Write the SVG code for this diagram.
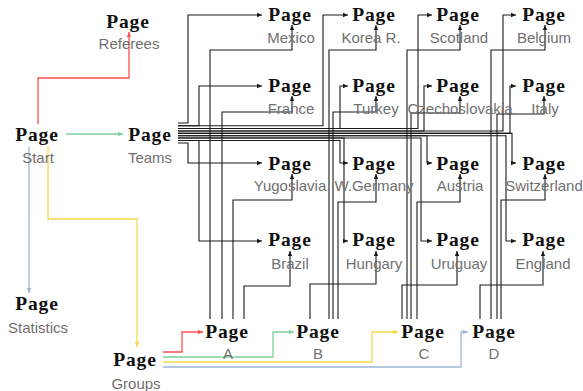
<svg xmlns="http://www.w3.org/2000/svg" width="583" height="391" viewBox="0 0 583 391">
<style>
.pg{font-family:"Liberation Serif","Times New Roman",serif;font-weight:bold;font-size:19.5px;letter-spacing:0.8px;fill:#111;text-anchor:middle}
.lb{font-family:"Liberation Sans",Arial,sans-serif;font-size:15px;fill:#707070;text-anchor:middle}
.k{fill:none;stroke:#1a1a1a;stroke-width:1.1;marker-end:url(#ak)}
.r{fill:none;stroke:#ff5050;stroke-width:1.3;marker-end:url(#ar)}
.g{fill:none;stroke:#80cf9c;stroke-width:1.3;marker-end:url(#ag)}
.y{fill:none;stroke:#f7d94a;stroke-width:1.3;marker-end:url(#ay)}
.b{fill:none;stroke:#9cb6d8;stroke-width:1.3;marker-end:url(#ab)}
</style>
<defs>
<marker id="ak" markerUnits="userSpaceOnUse" markerWidth="5" markerHeight="6" refX="5" refY="3" orient="auto"><path d="M0,0.8 L5,3 L0,5.2 z" fill="#1a1a1a"/></marker>
<marker id="ar" markerUnits="userSpaceOnUse" markerWidth="5" markerHeight="6" refX="5" refY="3" orient="auto"><path d="M0,0.8 L5,3 L0,5.2 z" fill="#ff5050"/></marker>
<marker id="ag" markerUnits="userSpaceOnUse" markerWidth="5" markerHeight="6" refX="5" refY="3" orient="auto"><path d="M0,0.8 L5,3 L0,5.2 z" fill="#80cf9c"/></marker>
<marker id="ay" markerUnits="userSpaceOnUse" markerWidth="5" markerHeight="6" refX="5" refY="3" orient="auto"><path d="M0,0.8 L5,3 L0,5.2 z" fill="#f7d94a"/></marker>
<marker id="ab" markerUnits="userSpaceOnUse" markerWidth="5" markerHeight="6" refX="5" refY="3" orient="auto"><path d="M0,0.8 L5,3 L0,5.2 z" fill="#9cb6d8"/></marker>
</defs>
<rect width="583" height="391" fill="#ffffff"/>
<g id="connectors">
<path class="r" d="M38,124 V78 H129 V32"/>
<path class="g" d="M66,134 H123"/>
<path class="b" d="M29,147 V293"/>
<path class="y" d="M48,146 V219 H137 V347"/>
<path class="r" d="M163,352 H182 V332 H203"/>
<path class="g" d="M163,357 H273 V332 H294"/>
<path class="y" d="M163,362 H372 V332 H398"/>
<path class="b" d="M163,367 H461 V332 H468"/>
<path class="k" d="M178,123 H188 V15 H262"/>
<path class="k" d="M178,125.8 H199 V86 H262"/>
<path class="k" d="M178,143 H188 V163 H262"/>
<path class="k" d="M178,140.5 H199 V241 H262"/>
<path class="k" d="M178,125.8 H323 V15 H348"/>
<path class="k" d="M178,128.5 H340 V86 H348"/>
<path class="k" d="M178,140.5 H340 V163 H348"/>
<path class="k" d="M178,138 H344 V241 H348"/>
<path class="k" d="M178,128.5 H418 V15 H432"/>
<path class="k" d="M178,131 H424 V86 H432"/>
<path class="k" d="M178,135.8 H427 V163 H432"/>
<path class="k" d="M178,138 H421 V241 H432"/>
<path class="k" d="M178,131 H503 V15 H516"/>
<path class="k" d="M178,133.4 H510 V86 H516"/>
<path class="k" d="M178,133.4 H512 V163 H516"/>
<path class="k" d="M178,135.8 H506 V241 H516"/>
<path class="k" d="M210,319 V50 H292 V25"/>
<path class="k" d="M222,319 V112 H292 V96"/>
<path class="k" d="M233,319 V200 H292 V174"/>
<path class="k" d="M244,319 V286 H290 V251"/>
<path class="k" d="M329,319 V50 H376 V25"/>
<path class="k" d="M333,319 V112 H376 V96"/>
<path class="k" d="M338,319 V202 H376 V174"/>
<path class="k" d="M310,319 V284 H376 V251"/>
<path class="k" d="M407,319 V50 H460 V25"/>
<path class="k" d="M411,319 V113 H460 V96"/>
<path class="k" d="M417,319 V202 H460 V174"/>
<path class="k" d="M402,319 V285 H457 V251"/>
<path class="k" d="M491,319 V50 H545 V25"/>
<path class="k" d="M497,319 V114 H544 V96"/>
<path class="k" d="M501,319 V200 H545 V174"/>
<path class="k" d="M480,319 V285 H543 V251"/>
</g>
<g id="referees"><text class="pg" x="128" y="28">Page</text><text class="lb" x="129" y="49">Referees</text></g>
<g id="start"><text class="pg" x="37" y="141">Page</text><text class="lb" x="38" y="163">Start</text></g>
<g id="teams"><text class="pg" x="150" y="141">Page</text><text class="lb" x="150" y="163">Teams</text></g>
<g id="statistics"><text class="pg" x="37" y="310">Page</text><text class="lb" x="38" y="333">Statistics</text></g>
<g id="groups"><text class="pg" x="135" y="366">Page</text><text class="lb" x="136" y="389">Groups</text></g>
<g id="group-a"><text class="pg" x="227" y="338">Page</text><text class="lb" x="228" y="359">A</text></g>
<g id="group-b"><text class="pg" x="318" y="338">Page</text><text class="lb" x="318" y="359">B</text></g>
<g id="group-c"><text class="pg" x="423" y="338">Page</text><text class="lb" x="424" y="359">C</text></g>
<g id="group-d"><text class="pg" x="494" y="338">Page</text><text class="lb" x="494" y="359">D</text></g>
<g id="mexico"><text class="pg" x="290" y="21">Page</text><text class="lb" x="291" y="43">Mexico</text></g>
<g id="korea"><text class="pg" x="374" y="21">Page</text><text class="lb" x="371" y="43">Korea R.</text></g>
<g id="scotland"><text class="pg" x="458" y="21">Page</text><text class="lb" x="459" y="43">Scotland</text></g>
<g id="belgium"><text class="pg" x="544" y="21">Page</text><text class="lb" x="544" y="43">Belgium</text></g>
<g id="france"><text class="pg" x="290" y="92">Page</text><text class="lb" x="291" y="114">France</text></g>
<g id="turkey"><text class="pg" x="374" y="92">Page</text><text class="lb" x="376" y="114">Turkey</text></g>
<g id="czechoslovakia"><text class="pg" x="458" y="92">Page</text><text class="lb" x="460" y="114">Czechoslovakia</text></g>
<g id="italy"><text class="pg" x="544" y="92">Page</text><text class="lb" x="545" y="114">Italy</text></g>
<g id="yugoslavia"><text class="pg" x="290" y="170">Page</text><text class="lb" x="290" y="191">Yugoslavia</text></g>
<g id="wgermany"><text class="pg" x="374" y="170">Page</text><text class="lb" x="374" y="191">W.Germany</text></g>
<g id="austria"><text class="pg" x="458" y="170">Page</text><text class="lb" x="460" y="191">Austria</text></g>
<g id="switzerland"><text class="pg" x="544" y="170">Page</text><text class="lb" x="544" y="191">Switzerland</text></g>
<g id="brazil"><text class="pg" x="290" y="246">Page</text><text class="lb" x="290" y="269">Brazil</text></g>
<g id="hungary"><text class="pg" x="374" y="246">Page</text><text class="lb" x="374" y="269">Hungary</text></g>
<g id="uruguay"><text class="pg" x="458" y="246">Page</text><text class="lb" x="459" y="269">Uruguay</text></g>
<g id="england"><text class="pg" x="544" y="246">Page</text><text class="lb" x="543" y="269">England</text></g>
</svg>
